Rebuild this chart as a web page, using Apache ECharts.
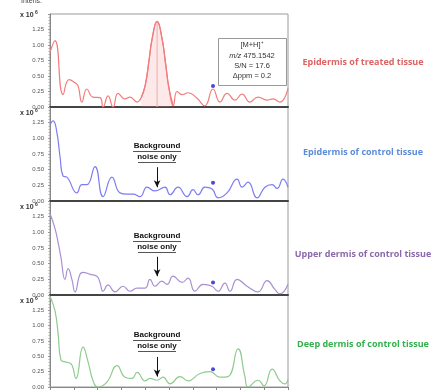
<!DOCTYPE html>
<html>
<head>
<meta charset="utf-8">
<script src="https://cdn.jsdelivr.net/npm/echarts@6/dist/echarts.min.js"></script>
<style>
  html, body { margin: 0; padding: 0; background: #fff; }
  #chart { width: 434px; height: 390px; }
</style>
</head>
<body>
<div id="chart"></div>
<script>
// data (x in arbitrary m/z units 0..100, y in x10^6 counts)
const treatedX = [0, 2.1, 5.5, 8, 10.5, 11.8, 13.4, 15.5, 18, 21, 22.3, 24.4, 26.5, 28.6, 31.5, 33.6, 36.6, 38.3, 40, 41.5, 43, 45, 47, 48.5, 50, 51.8, 53.4, 55.5, 58, 61.8, 65, 68.5, 71.4, 74.4, 77.7, 80.7, 84, 87.4, 91.2, 93.7, 96.6, 100];
const treatedY = [0.88, 1.07, 0.2, 0.44, 0.39, 0.34, 0.08, 0.29, 0.16, 0.15, 0, 0.18, 0, 0.22, 0.13, 0.16, 0.08, 0.15, 0.35, 0.72, 1.12, 1.38, 1.12, 0.72, 0.3, 0.02, 0.25, 0.2, 0.23, 0.14, 0.02, 0.29, 0.08, 0.22, 0.11, 0.21, 0.08, 0.16, 0.11, 0.13, 0.08, 0.3];

const epiCtrlX = [0, 1.3, 2.9, 4.2, 5.5, 7.1, 11.3, 13.4, 15.5, 18.9, 22.3, 26, 29.4, 32.4, 34.9, 37.8, 40.8, 44.1, 48.3, 50.4, 53.8, 57.6, 60.1, 62.2, 65.1, 68.1, 70.6, 74.4, 78.6, 80.7, 83.2, 87, 90.3, 93.3, 95.4, 97.9, 100];
const epiCtrlY = [1.22, 1.28, 1.09, 0.71, 0.4, 0.38, 0.13, 0.26, 0.26, 0.55, 0.07, 0.38, 0.13, 0.11, 0.11, 0.07, 0.22, 0.16, 0.22, 0.1, 0.22, 0.07, 0.18, 0.1, 0.22, 0.19, 0.05, 0.13, 0.35, 0.22, 0.3, 0.05, 0.22, 0.26, 0.2, 0.35, 0.22];

const upperX = [0, 2.1, 3.4, 4.6, 6.3, 7.6, 9.2, 10.5, 12.6, 13.9, 16.8, 19.7, 21, 22.3, 24.4, 27.3, 30.7, 33.6, 36.6, 40, 42, 44.1, 47, 49.2, 51.7, 55.5, 58, 60.9, 64.3, 68.1, 70.6, 73.5, 75.6, 78.6, 82.8, 87.4, 91.2, 94.5, 96.6, 100];
const upperY = [1.3, 1.06, 0.84, 0.6, 0.25, 0.42, 0.25, 0.05, 0.33, 0.36, 0.33, 0.3, 0.2, 0.06, 0.16, 0.05, 0.14, 0.06, 0.11, 0.11, 0.25, 0.14, 0.22, 0.17, 0.3, 0.2, 0.27, 0.06, 0.17, 0.14, 0.06, 0.19, 0.06, 0.25, 0.14, 0.05, 0.23, 0.09, 0.02, 0.17];

const deepX = [0, 2.1, 3.4, 4.6, 6.3, 7.6, 9.2, 10.9, 13.9, 16, 18.1, 20.2, 23.9, 28.2, 31.5, 34.5, 36.6, 40, 42, 45, 47.5, 50.4, 54.6, 58, 63, 67.2, 71.4, 74.8, 79, 81.9, 83.2, 87.4, 89.9, 93.3, 96.6, 98.7, 100];
const deepY = [1.48, 1.24, 0.87, 0.44, 0.41, 0.4, 0.36, 0.14, 0.65, 0.41, 0.1, 0, 0.08, 0.35, 0.16, 0.14, 0.24, 0.1, 0.14, 0.11, 0.16, 0.05, 0.17, 0.1, 0.22, 0.25, 0.16, 0.17, 0.62, 0.17, 0, 0.11, 0.02, 0.29, 0.1, 0.05, 0.13];

// the marked m/z position (blue dot) in each trace
const dotX = 68.5;
const dotY = [0.34, 0.29, 0.2, 0.29];
// position of the assigned peak
const peakX = 45;
const peakTop = 1.38;
// "background noise only" arrows: [from, to] in y units
const arrowY = [[0.54, 0.22], [0.61, 0.3], [0.49, 0.17]];

const panelNames = ["Epidermis of treated tissue", "Epidermis of control tissue", "Upper dermis of control tissue", "Deep dermis of control tissue"];
const lineColors = ["#f27c7c", "#7d7df2", "#a891d0", "#8fcb8f"];
const labelColors = ["#dc6464", "#5c8cd6", "#8c68ac", "#34b04e"];
const yTicks = [0, 0.25, 0.5, 0.75, 1.0, 1.25];

let chart = echarts.init(document.getElementById("chart"));

// grid layout of the four stacked panels
const tops = [14, 107, 201, 295];
const heights = [93, 94, 94, 93];

let grids = [], xAxes = [], yAxes = [];
for (let i = 0; i < 4; i++) {
    grids.push({ left: 50, right: 146, top: tops[i], height: heights[i], show: true, borderColor: "#9a9a9a", borderWidth: 1 });
    let last = i === 3;
    xAxes.push({
        type: "value", gridIndex: i, min: 0, max: 100, interval: 10,
        axisLine: { show: true, onZero: false, lineStyle: { color: last ? "#888" : "#444", width: last ? 1 : 2 } },
        axisTick: { show: last, length: 3, lineStyle: { color: "#888" } },
        axisLabel: { show: false },
        splitLine: { show: false }
    });
    yAxes.push({
        type: "value", gridIndex: i, min: 0, max: 1.5, interval: 0.25,
        axisLine: { show: true, lineStyle: { color: "#888" } },
        axisTick: { show: true, length: 2, lineStyle: { color: "#999" } },
        minorTick: { show: true, splitNumber: 5, length: 1.5, lineStyle: { color: "#aaa" } },
        axisLabel: {
            fontSize: 6, color: "#555", margin: 6, fontFamily: "Liberation Sans",
            formatter: v => yTicks.includes(v) ? v.toFixed(2) : ""
        },
        splitLine: { show: false }
    });
}

function toPairs(xs, ys) { return xs.map((x, k) => [x, ys[k]]); }

function trace(i, xs, ys) {
    return {
        type: "line", xAxisIndex: i, yAxisIndex: i, data: toPairs(xs, ys),
        smooth: 0.5, showSymbol: false, silent: true,
        lineStyle: { color: lineColors[i], width: 1.2 }, z: 3
    };
}

let traces = [[treatedX, treatedY], [epiCtrlX, epiCtrlY], [upperX, upperY], [deepX, deepY]];
let series = traces.map((t, i) => trace(i, t[0], t[1]));

// shaded region under the assigned peak
let peakIdx = treatedX.map((x, k) => k).filter(k => treatedX[k] >= 37.5 && treatedX[k] <= 52);
series.push({
    type: "line", xAxisIndex: 0, yAxisIndex: 0, smooth: 0.5, showSymbol: false, silent: true,
    data: peakIdx.map(k => [treatedX[k], treatedY[k]]),
    lineStyle: { color: lineColors[0], width: 1.2 },
    areaStyle: { color: "rgba(245,150,150,0.3)" }, z: 2
});
series.push({
    type: "line", xAxisIndex: 0, yAxisIndex: 0, showSymbol: false, silent: true,
    data: [[peakX, 0], [peakX, peakTop]],
    lineStyle: { color: "#eeaaaa", width: 1 }, z: 2
});

// blue dots
for (let i = 0; i < 4; i++) {
    series.push({
        type: "scatter", xAxisIndex: i, yAxisIndex: i, silent: true,
        data: [[dotX, dotY[i]]], symbolSize: 4, itemStyle: { color: "#1c1cc8" }, z: 5
    });
}

// arrows pointing at the noise
for (let i = 1; i < 4; i++) {
    series[i].markLine = {
        silent: true, symbol: ["none", "arrow"], symbolSize: [5, 7],
        label: { show: false }, lineStyle: { color: "#111", width: 1, type: "solid" },
        data: [[{ coord: [peakX, arrowY[i - 1][0]] }, { coord: [peakX, arrowY[i - 1][1]] }]]
    };
}

// texts and annotation boxes
let graphic = [];
graphic.push({ type: "text", left: 21, top: -2, style: { text: "Intens.", fontSize: 7, fill: "#444", fontFamily: "Liberation Sans" } });
const expY = [12, 110, 204, 298];
expY.forEach(y => {
    graphic.push({ type: "text", left: 20, top: y, style: { text: "x 10", fontSize: 7, fontWeight: "bold", fill: "#333", fontFamily: "Liberation Sans" } });
    graphic.push({ type: "text", left: 35, top: y - 2, style: { text: "6", fontSize: 5, fontWeight: "bold", fill: "#333", fontFamily: "Liberation Sans" } });
});

// panel labels on the right
const labelY = [62, 152, 254, 344];
panelNames.forEach((name, i) => {
    graphic.push({
        type: "text", x: 363, y: labelY[i],
        style: { text: name, fontSize: 9, fontWeight: "bold", fill: labelColors[i], fontFamily: "Open Sans", align: "center", verticalAlign: "middle" }
    });
});

// peak annotation box
graphic.push({ type: "rect", shape: { x: 218.5, y: 38.5, width: 68, height: 47 }, style: { fill: "#fff", stroke: "#999", lineWidth: 1 }, z: 10 });
const boxLines = ["[M+H]\u207A", "{i|m/z} 475.1542", "S/N = 17.6", "\u0394ppm = 0.2"];
const boxY = [45, 56, 66, 76];
boxLines.forEach((t, k) => {
    graphic.push({
        type: "text", x: 252, y: boxY[k], z: 11,
        style: {
            text: t, fontSize: 7.5, fill: "#333", fontFamily: "Liberation Sans", align: "center", verticalAlign: "middle",
            rich: { i: { fontSize: 7.5, fontStyle: "italic", fill: "#333", fontFamily: "Liberation Sans" } }
        }
    });
});

// "Background noise only" captions
const noteY = [146, 236, 335];
noteY.forEach(y => {
    ["Background", "noise only"].forEach((t, k) => {
        let ty = y + k * 11;
        graphic.push({ type: "text", x: 157, y: ty, z: 11, style: { text: t, fontSize: 8, fontWeight: "bold", fill: "#111", fontFamily: "Liberation Sans", align: "center", verticalAlign: "middle" } });
        let w = k === 0 ? 48 : 38;
        graphic.push({ type: "line", z: 11, shape: { x1: 157 - w / 2, y1: ty + 5.5, x2: 157 + w / 2, y2: ty + 5.5 }, style: { stroke: "#555", lineWidth: 1 } });
    });
});

chart.setOption({
    animation: false,
    grid: grids,
    xAxis: xAxes,
    yAxis: yAxes,
    series: series,
    graphic: graphic
});
</script>
</body>
</html>
